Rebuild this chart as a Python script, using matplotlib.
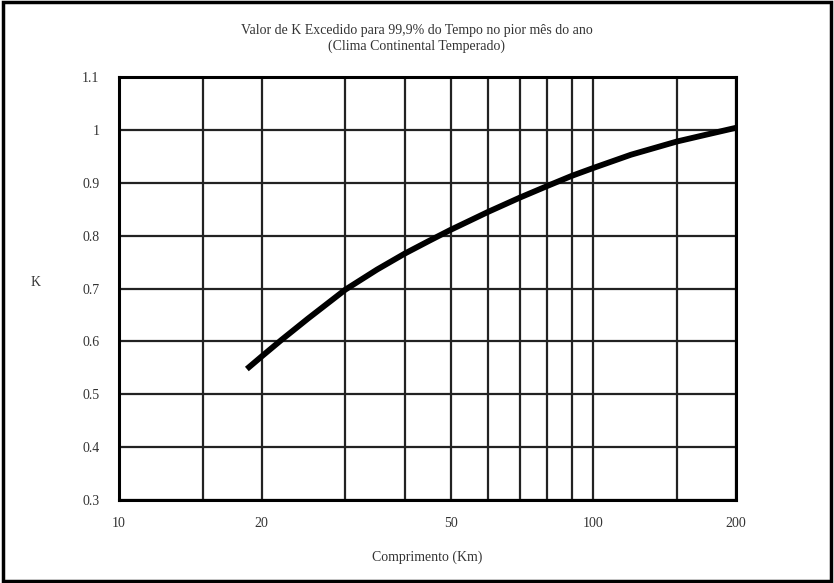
import numpy as np
import matplotlib.pyplot as plt
from matplotlib.patches import Rectangle
from matplotlib.ticker import FixedLocator, FixedFormatter, NullLocator

# Dados
comprimento = [18.6, 20, 22, 25, 30, 35, 40, 45, 50, 60, 70, 80, 90, 100, 120, 150, 175, 200]
k_valor = [0.548, 0.572, 0.603, 0.643, 0.698, 0.736, 0.766, 0.790, 0.811, 0.845, 0.872,
           0.894, 0.913, 0.928, 0.953, 0.978, 0.992, 1.004]

x_grid = [10, 15, 20, 30, 40, 50, 60, 70, 80, 90, 100, 150, 200]
x_ticks = [10, 20, 50, 100, 200]
y_ticks = [0.3, 0.4, 0.5, 0.6, 0.7, 0.8, 0.9, 1.0, 1.1]
y_labels = ['0.3', '0.4', '0.5', '0.6', '0.7', '0.8', '0.9', '1', '1.1']

plt.rcParams['font.family'] = ['Liberation Serif', 'DejaVu Serif']
cinza = '#333333'

fig = plt.figure(figsize=(8.34, 5.83), dpi=100)
ax = fig.add_axes([0.1427, 0.142, 0.740, 0.726])

# grade
for xv in x_grid:
    ax.axvline(xv, color='#222222', lw=1.6, zorder=1)
for yv in y_ticks:
    ax.axhline(yv, color='#222222', lw=1.6, zorder=1)

ax.plot(comprimento, k_valor, color='black', lw=4.2, solid_capstyle='butt',
        solid_joinstyle='round', zorder=3)

ax.set_xscale('log')
ax.set_xlim(10, 200)
ax.set_ylim(0.3, 1.1)
ax.xaxis.set_major_locator(FixedLocator(x_ticks))
ax.xaxis.set_major_formatter(FixedFormatter([str(v) for v in x_ticks]))
ax.xaxis.set_minor_locator(NullLocator())
ax.set_yticks(y_ticks)
ax.set_yticklabels(y_labels)
ax.tick_params(axis='both', length=0, labelsize=10, colors=cinza)
ax.tick_params(axis='x', pad=12)
ax.tick_params(axis='y', pad=14)

for s in ax.spines.values():
    s.set_linewidth(2.2)
    s.set_color('black')

ax.set_xlabel('Comprimento (Km)', fontsize=10, color=cinza, labelpad=15)
ax.set_ylabel('K', fontsize=10, color=cinza, rotation=0, labelpad=0)
ax.yaxis.set_label_coords(-0.136, 0.5)

fig.text(0.5, 0.947, 'Valor de K Excedido para 99,9% do Tempo no pior mês do ano',
         ha='center', va='center', fontsize=10, color=cinza)
fig.text(0.5, 0.921, '(Clima Continental Temperado)',
         ha='center', va='center', fontsize=10, color=cinza)

# moldura externa
fig.patches.append(Rectangle((0.004, 0.004), 0.992, 0.992, transform=fig.transFigure,
                             fill=False, edgecolor='black', lw=2.5))

fig.savefig('out.png', dpi=100)
